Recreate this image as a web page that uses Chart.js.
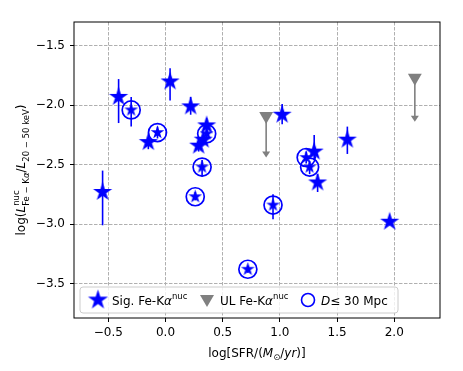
<!DOCTYPE html>
<html>
<head>
<meta charset="utf-8">
<script src="https://cdn.jsdelivr.net/npm/chart.js@4"></script>
<style>
html, body { margin: 0; padding: 0; background: #fff; }
</style>
</head>
<body>
<canvas id="chart" width="463" height="371"></canvas>
<script>
// significant nuclear Fe-Ka detections (filled stars)
const sigX  = [-0.55, -0.41, -0.15, 0.04, 0.22, 0.36, 0.33, 0.29, 1.02, 1.30, 1.33, 1.59, 1.96];
const sigY  = [-2.73, -1.93, -2.31, -1.80, -2.01, -2.17, -2.29, -2.34, -2.08, -2.39, -2.65, -2.29, -2.98];
const sigLo = [-3.01, -2.15, -2.37, -1.96, -2.08, -2.22, -2.33, -2.39, -2.16, -2.46, -2.73, -2.41, -3.01];
const sigHi = [-2.55, -1.78, -2.27, -1.69, -1.93, -2.11, -2.25, -2.30, -1.99, -2.25, -2.58, -2.18, -2.95];

// sources closer than 30 Mpc (circled stars)
const nearX  = [-0.30, -0.07, 0.26, 0.36, 0.32, 0.72, 0.94, 1.23, 1.26];
const nearY  = [-2.04, -2.23, -2.77, -2.24, -2.52, -3.38, -2.84, -2.44, -2.52];
const nearLo = [-2.18, -2.28, -2.80, -2.29, -2.60, -3.41, -2.96, -2.49, -2.58];
const nearHi = [-1.93, -2.18, -2.73, -2.19, -2.46, -3.35, -2.75, -2.39, -2.47];

// upper limits (grey triangles + arrows)
const ulX   = [0.88, 2.18];
const ulY   = [-2.09, -1.77];
const ulEnd = [-2.44, -2.14];

const xTicks = [-0.5, 0.0, 0.5, 1.0, 1.5, 2.0];
const yTicks = [-3.5, -3.0, -2.5, -2.0, -1.5];

const BLUE = '#0000ff';
const GREY = '#808080';
const FONT = '"DejaVu Sans", sans-serif';

function makeStar(r, color) {
    const c = document.createElement('canvas');
    const s = Math.ceil(2 * r + 2);
    c.width = s; c.height = s;
    const g = c.getContext('2d');
    g.fillStyle = color;
    g.beginPath();
    for (let i = 0; i < 10; i++) {
        const rr = i % 2 ? r * 0.382 : r;
        const a = -Math.PI / 2 + i * Math.PI / 5;
        const px = s / 2 + rr * Math.cos(a), py = s / 2 + rr * Math.sin(a);
        if (i) g.lineTo(px, py); else g.moveTo(px, py);
    }
    g.closePath();
    g.fill();
    return c;
}

const bigStar = makeStar(10, BLUE);
const smallStar = makeStar(7.2, BLUE);
const legendStar = makeStar(10.5, BLUE);

function pts(xs, ys) {
    return xs.map((v, i) => ({ x: v, y: ys[i] }));
}

function fmt(v) {
    return (v < 0 ? '\u2212' : '') + Math.abs(v).toFixed(1);
}

// draw a list of text runs (italic / sub / sup) along the baseline
function drawRich(ctx, runs, x, y, center) {
    const setFont = r => { ctx.font = (r.it ? 'italic ' : '') + (r.size || 12) + 'px ' + FONT; };
    let total = 0;
    runs.forEach(r => {
        if (r.stack) {
            r.w = Math.max(...r.stack.map(s => { setFont(s); return ctx.measureText(s.t).width; }));
        } else {
            setFont(r); r.w = ctx.measureText(r.t).width;
        }
        total += r.w + (r.gap || 0);
    });
    let cx = center ? x - total / 2 : x;
    runs.forEach(r => {
        if (r.stack) {
            r.stack.forEach(s => { setFont(s); ctx.fillText(s.t, cx, y + (s.dy || 0)); });
        } else {
            setFont(r); ctx.fillText(r.t, cx, y + (r.dy || 0));
        }
        cx += r.w + (r.gap || 0);
    });
}

const errorBars = {
    id: 'errorBars',
    beforeDatasetsDraw(chart) {
        const { ctx, chartArea: a, scales: { x, y } } = chart;
        ctx.save();
        // frame
        ctx.strokeStyle = '#000';
        ctx.lineWidth = 1;
        ctx.strokeRect(a.left, a.top, a.right - a.left, a.bottom - a.top);
        // error bars
        ctx.strokeStyle = BLUE;
        ctx.lineWidth = 1.6;
        chart.data.datasets.forEach(ds => {
            if (!ds.errLo) return;
            ds.data.forEach((p, i) => {
                const px = x.getPixelForValue(p.x);
                ctx.beginPath();
                ctx.moveTo(px, y.getPixelForValue(ds.errLo[i]));
                ctx.lineTo(px, y.getPixelForValue(ds.errHi[i]));
                ctx.stroke();
            });
        });
        // upper limit arrows
        ctx.strokeStyle = GREY;
        ctx.fillStyle = GREY;
        ulX.forEach((v, i) => {
            const px = x.getPixelForValue(v);
            const y0 = y.getPixelForValue(ulY[i]);
            const y1 = y.getPixelForValue(ulEnd[i]);
            ctx.beginPath();
            ctx.moveTo(px, y0);
            ctx.lineTo(px, y1 - 4);
            ctx.stroke();
            ctx.beginPath();
            ctx.moveTo(px - 4, y1 - 6);
            ctx.lineTo(px + 4, y1 - 6);
            ctx.lineTo(px, y1);
            ctx.closePath();
            ctx.fill();
        });
        ctx.restore();
    }
};

const decorations = {
    id: 'decorations',
    afterDraw(chart) {
        const { ctx, chartArea: a } = chart;
        ctx.save();
        ctx.fillStyle = '#000';
        ctx.textBaseline = 'alphabetic';

        // x axis title
        drawRich(ctx, [
            { t: 'log[SFR/(' },
            { t: 'M', it: true },
            { t: '\u2299', size: 8.5, dy: 3 },
            { t: '/' },
            { t: 'yr', it: true },
            { t: ')]' }
        ], (a.left + a.right) / 2, 357, true);

        // y axis title
        ctx.save();
        ctx.translate(25, (a.top + a.bottom) / 2);
        ctx.rotate(-Math.PI / 2);
        drawRich(ctx, [
            { t: 'log(' },
            { t: 'L', it: true },
            { stack: [
                { t: 'nuc', size: 8.5, dy: -6 },
                { t: 'Fe \u2212 K', size: 8.5, dy: 4 }
            ] },
            { t: '\u03b1', it: true, size: 8.5, dy: 4 },
            { t: '/', gap: 0 },
            { t: 'L', it: true },
            { t: '20 \u2212 50 keV', size: 8.5, dy: 4 },
            { t: ')' }
        ], 0, 0, true);
        ctx.restore();

        // legend
        const lx = a.left + 6, ly = a.bottom - 31, lw = 318, lh = 26;
        ctx.beginPath();
        ctx.roundRect(lx, ly, lw, lh, 3);
        ctx.fillStyle = 'rgba(255,255,255,0.8)';
        ctx.fill();
        ctx.strokeStyle = '#cccccc';
        ctx.lineWidth = 1;
        ctx.stroke();

        const cy = ly + lh / 2;
        ctx.drawImage(legendStar, lx + 18 - legendStar.width / 2, cy - legendStar.height / 2);
        ctx.fillStyle = GREY;
        ctx.beginPath();
        ctx.moveTo(lx + 120, cy - 5);
        ctx.lineTo(lx + 134, cy - 5);
        ctx.lineTo(lx + 127, cy + 7);
        ctx.closePath();
        ctx.fill();
        ctx.strokeStyle = BLUE;
        ctx.lineWidth = 1.6;
        ctx.beginPath();
        ctx.arc(lx + 228, cy, 6.5, 0, Math.PI * 2);
        ctx.stroke();

        ctx.fillStyle = '#000';
        const by = cy + 4.5;
        drawRich(ctx, [
            { t: 'Sig. Fe-K' },
            { t: '\u03b1', it: true },
            { t: 'nuc', size: 8.5, dy: -6 }
        ], lx + 32, by, false);
        drawRich(ctx, [
            { t: 'UL Fe-K' },
            { t: '\u03b1', it: true },
            { t: 'nuc', size: 8.5, dy: -6 }
        ], lx + 140, by, false);
        drawRich(ctx, [
            { t: 'D', it: true },
            { t: '\u2264 30 Mpc' }
        ], lx + 241, by, false);
        ctx.restore();
    }
};

const gridOpts = {
    color: '#b0b0b0',
    lineWidth: 1,
    drawTicks: true,
    tickLength: 4,
    tickColor: '#000',
    tickWidth: 1
};

new Chart(document.getElementById('chart'), {
    type: 'scatter',
    data: {
        datasets: [
            {
                label: 'Sig. Fe-K\u03b1 nuc',
                data: pts(sigX, sigY),
                errLo: sigLo,
                errHi: sigHi,
                pointStyle: bigStar,
                pointRadius: 9,
                pointHoverRadius: 9
            },
            {
                label: 'near stars',
                data: pts(nearX, nearY),
                errLo: nearLo,
                errHi: nearHi,
                pointStyle: smallStar,
                pointRadius: 7,
                pointHoverRadius: 7
            },
            {
                label: 'D\u2264 30 Mpc',
                data: pts(nearX, nearY),
                pointStyle: 'circle',
                pointRadius: 9,
                pointHoverRadius: 9,
                borderColor: BLUE,
                backgroundColor: 'rgba(0,0,0,0)',
                borderWidth: 1.7
            },
            {
                label: 'UL Fe-K\u03b1 nuc',
                data: pts(ulX, ulY),
                pointStyle: 'triangle',
                rotation: 180,
                pointRadius: 8,
                pointHoverRadius: 8,
                backgroundColor: GREY,
                borderColor: GREY,
                borderWidth: 0
            }
        ]
    },
    options: {
        responsive: false,
        animation: false,
        devicePixelRatio: 1,
        layout: { padding: { top: 22, right: 23, left: 0, bottom: 0 } },
        plugins: {
            legend: { display: false },
            tooltip: { enabled: false }
        },
        scales: {
            x: {
                type: 'linear',
                min: -0.8,
                max: 2.4,
                afterBuildTicks: s => { s.ticks = xTicks.map(v => ({ value: v })); },
                afterFit: s => { s.height = 53; },
                ticks: {
                    callback: v => fmt(v),
                    color: '#000',
                    font: { family: FONT, size: 12 },
                    padding: 4,
                    maxRotation: 0
                },
                grid: gridOpts,
                border: { display: false, dash: [3.5, 1.5] }
            },
            y: {
                type: 'linear',
                min: -3.79,
                max: -1.30,
                afterBuildTicks: s => { s.ticks = yTicks.map(v => ({ value: v })); },
                afterFit: s => { s.width = 74; },
                ticks: {
                    callback: v => fmt(v),
                    color: '#000',
                    font: { family: FONT, size: 12 },
                    padding: 5
                },
                grid: gridOpts,
                border: { display: false, dash: [3.5, 1.5] }
            }
        }
    },
    plugins: [errorBars, decorations]
});
</script>
</body>
</html>
